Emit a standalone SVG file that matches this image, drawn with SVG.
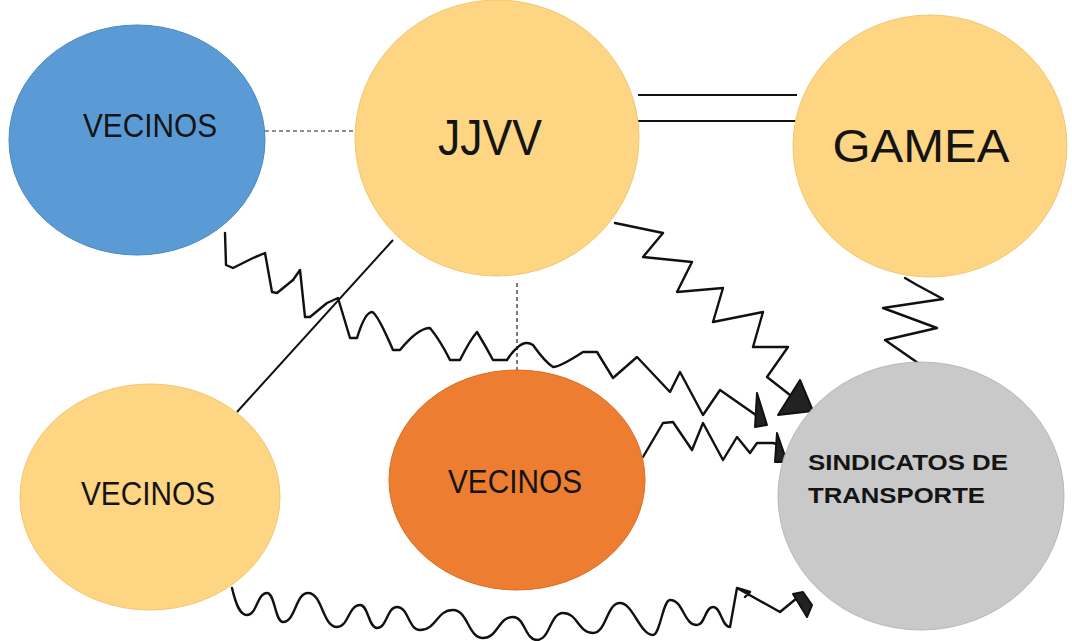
<svg xmlns="http://www.w3.org/2000/svg" width="1072" height="641" viewBox="0 0 1072 641">
<style>
.lbl{font-family:"Liberation Sans",Arial,sans-serif;fill:#141414}
.b{font-weight:bold}
.w{fill:none;stroke:#111;stroke-width:2.4;stroke-linejoin:round;stroke-linecap:round}
.s{fill:none;stroke:#111;stroke-width:2}
.d{fill:none;stroke:#222;stroke-width:1.2;stroke-dasharray:4 3}
.ah{fill:#222;stroke:#111;stroke-width:2;stroke-linejoin:round}
</style>
<rect width="1072" height="641" fill="#fff"/>
<g id="connectors">
<line class="d" x1="265" y1="131" x2="355" y2="131"/>
<line class="d" x1="517" y1="283" x2="517" y2="370"/>
<line class="s" x1="638" y1="95" x2="797" y2="95"/>
<line class="s" x1="638" y1="121" x2="797" y2="121"/>
<line class="s" x1="393" y1="240" x2="237" y2="412"/>
<path class="w" d="M225,233 L226,265 L233,268 L253,258 L265,253 L272,292 L277,293 L293,280 L300,270 L305,317 L310,317 L327,303 L338,298 L350,338 L357,338 Q365,312 372,312 Q377,313 393,350 L400,350 Q418,328 430,328 Q440,340 450,360 L460,360 Q470,340 477,332 Q485,345 493,360 L507,360 Q512,352 517,348 Q525,340 533,345 Q545,362 553,367 Q560,367 583,352 L597,352 L613,378 L637,357 L670,392 L680,372 L703,415 L720,390 L753,413 L760,418"/>
<path class="ah" d="M757,393 L755,427 L767,425 Z"/>
<path class="w" d="M643,457 L663,423 L673,422 L692,450 L703,423 L723,460 L737,437 L750,453 L757,443 L773,443 L780,445"/>
<path class="ah" d="M777,433 L775,462 L787,462 Z" fill="none"/>
<path class="w" d="M615,223 L663,233 L643,257 L692,262 L677,292 L723,288 L713,322 L763,312 L753,347 L788,347 L767,377 L790,395"/>
<path class="ah" d="M800,380 L778,415 L813,411 Z"/>
<path class="w" d="M905,278 L917,285 L943,299 L883,308 L937,328 L885,340 L918,363"/>
<path class="w" d="M232,588 C236,605 240,615 247,615 C257,615 257,593 267,593 C275,593 275,622 283,622 C295.5,622 295.5,593 308,593 C322.5,593 322.5,627 337,627 C348.5,627 348.5,605 360,605 C368.5,605 368.5,628 377,628 C387,628 387,607 397,607 C408.5,607 408.5,630 420,630 C436.5,630 436.5,610 453,610 C468,610 468,638 483,638 C498,638 498,617 513,617 C525,617 525,640 537,640 C550,640 550,613 563,613 C578,613 578,633 593,633 C606.5,633 606.5,603 620,603 C633,603 640,635 653,635 C660,635 663,600 670,600 C683.5,600 683.5,625 697,625 C705,625 705,607 713,607 C721.5,607 721.5,627 730,627 L737,588 L750,592 L745,597 M737,588 L780,612 L797,598"/>
<path class="ah" d="M793,594 L803,592 L812,605 L807,617 Z"/>
</g>
<g id="vecinos-blue">
<ellipse cx="137" cy="140" rx="128" ry="115" fill="#5B9BD5" stroke="#4a87c2" stroke-width="1"/>
<text class="lbl" x="150" y="137" font-size="33" text-anchor="middle" textLength="134" lengthAdjust="spacingAndGlyphs">VECINOS</text>
</g>
<g id="jjvv">
<ellipse cx="497" cy="138" rx="142" ry="138" fill="#FDD583" stroke="#f2c76e" stroke-width="1"/>
<text class="lbl" x="490" y="155" font-size="50" text-anchor="middle" textLength="104" lengthAdjust="spacingAndGlyphs">JJVV</text>
</g>
<g id="gamea">
<ellipse cx="930" cy="146" rx="137" ry="131" fill="#FDD583" stroke="#f2c76e" stroke-width="1"/>
<text class="lbl" x="921" y="162" font-size="47" text-anchor="middle" textLength="177" lengthAdjust="spacingAndGlyphs">GAMEA</text>
</g>
<g id="vecinos-yellow">
<ellipse cx="150" cy="497" rx="130" ry="113" fill="#FDD583" stroke="#f2c76e" stroke-width="1"/>
<text class="lbl" x="148" y="505" font-size="33" text-anchor="middle" textLength="134" lengthAdjust="spacingAndGlyphs">VECINOS</text>
</g>
<g id="vecinos-orange">
<ellipse cx="517" cy="480" rx="128" ry="110" fill="#ED7D31" stroke="#d96c22" stroke-width="1"/>
<text class="lbl" x="515" y="493" font-size="33" text-anchor="middle" textLength="134" lengthAdjust="spacingAndGlyphs">VECINOS</text>
</g>
<g id="sindicatos">
<ellipse cx="921" cy="496" rx="143" ry="134" fill="#C9C9C9" stroke="#b8b8b8" stroke-width="1"/>
<text class="lbl b" x="808" y="470" font-size="22" textLength="200" lengthAdjust="spacingAndGlyphs">SINDICATOS DE</text>
<text class="lbl b" x="808" y="503" font-size="22" textLength="177" lengthAdjust="spacingAndGlyphs">TRANSPORTE</text>
</g>
</svg>
